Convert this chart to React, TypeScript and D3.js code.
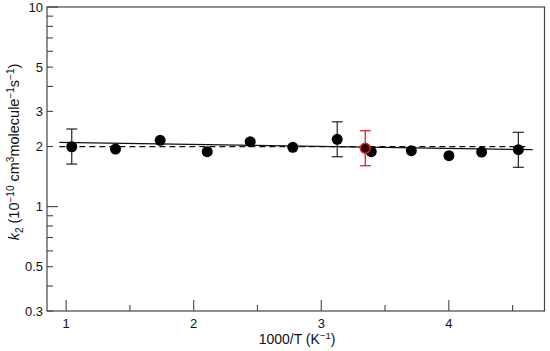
import React from 'react';
import * as d3 from 'd3';

// measured points: 1000/T and k2 (1e-10 cm3 molecule-1 s-1)
const invT = [1.044, 1.387, 1.737, 2.106, 2.443, 2.777, 3.125, 3.392, 3.706, 4.001, 4.257, 4.545];
const k2 = [1.995, 1.943, 2.149, 1.884, 2.115, 1.982, 2.174, 1.884, 1.906, 1.80, 1.877, 1.928];
// error bars on selected points [x, low, high]
const errBars = [
  [1.044, 1.634, 2.448],
  [3.125, 1.778, 2.66],
  [4.545, 1.574, 2.357],
];
// highlighted (red) literature point
const redPoint = { x: 3.345, y: 1.96, lo: 1.603, hi: 2.40 };
// fit lines
const fitSolid = [[0.947, 2.10], [4.657, 1.928]];
const fitDashed = [[0.947, 2.0], [4.60, 2.0]];

const xMajor = [1, 2, 3, 4];
const xMinor = [1.5, 2.5, 3.5, 4.5];
const yLabels = [0.3, 0.5, 1, 2, 3, 5, 10];
const yMinor = [0.4, 0.6, 0.7, 0.8, 0.9, 4, 6, 7, 8, 9];

export default function App() {
  const left = 47, top = 7, right = 544.5, bottom = 311;
  const x = d3.scaleLinear().domain([0.85, 4.75]).range([left, right]);
  const y = d3.scaleLog().domain([0.3, 10]).range([bottom, top]);
  const line = d3.line<number[]>().x(d => x(d[0])).y(d => y(d[1]));
  const font = '"Liberation Sans", Arial, sans-serif';
  const axisCol = '#444';
  const cap = 5.5;
  const red = '#e8202a';

  return (
    <svg width={550} height={351} style={{ position: 'absolute', left: 0, top: 0 }} fontFamily={font}>
      <rect x={left} y={top} width={right - left} height={bottom - top} fill="none" stroke={axisCol} strokeWidth={1.2} />

      {/* x ticks */}
      {xMajor.map(v => (
        <g key={'xm' + v}>
          <line x1={x(v)} x2={x(v)} y1={bottom} y2={bottom - 11} stroke={axisCol} strokeWidth={1.1} />
          <text x={x(v)} y={328} textAnchor="middle" fontSize={13} fill="#111">{v}</text>
        </g>
      ))}
      {xMinor.map(v => (
        <line key={'xn' + v} x1={x(v)} x2={x(v)} y1={bottom} y2={bottom - 6} stroke={axisCol} strokeWidth={1.1} />
      ))}

      {/* y ticks */}
      {yLabels.map(v => (
        <g key={'yl' + v}>
          <line x1={left} x2={left + (v === 1 || v === 10 ? 11 : 6)} y1={y(v)} y2={y(v)} stroke={axisCol} strokeWidth={1.1} />
          <text x={43} y={y(v)} dy="0.35em" textAnchor="end" fontSize={13} fill="#111">{v}</text>
        </g>
      ))}
      {yMinor.map(v => (
        <line key={'yn' + v} x1={left} x2={left + 6} y1={y(v)} y2={y(v)} stroke={axisCol} strokeWidth={1.1} />
      ))}

      {/* fits */}
      <path d={line(fitSolid) || ''} fill="none" stroke="#111" strokeWidth={1.3} />
      <path d={line(fitDashed) || ''} fill="none" stroke="#111" strokeWidth={1.3} strokeDasharray="6,4" />

      {/* error bars */}
      {errBars.map((e, i) => (
        <g key={'e' + i} stroke="#222" strokeWidth={1.2}>
          <line x1={x(e[0])} x2={x(e[0])} y1={y(e[1])} y2={y(e[2])} />
          <line x1={x(e[0]) - cap} x2={x(e[0]) + cap} y1={y(e[1])} y2={y(e[1])} />
          <line x1={x(e[0]) - cap} x2={x(e[0]) + cap} y1={y(e[2])} y2={y(e[2])} />
        </g>
      ))}

      {/* points */}
      {invT.map((v, i) => (
        <circle key={'p' + i} cx={x(v)} cy={y(k2[i])} r={5.5} fill="#000" />
      ))}

      {/* red point */}
      <g stroke={red} strokeWidth={1.3}>
        <line x1={x(redPoint.x)} x2={x(redPoint.x)} y1={y(redPoint.lo)} y2={y(redPoint.hi)} />
        <line x1={x(redPoint.x) - cap} x2={x(redPoint.x) + cap} y1={y(redPoint.lo)} y2={y(redPoint.lo)} />
        <line x1={x(redPoint.x) - cap} x2={x(redPoint.x) + cap} y1={y(redPoint.hi)} y2={y(redPoint.hi)} />
        <circle cx={x(redPoint.x)} cy={y(redPoint.y)} r={5} fill="#2a0606" strokeWidth={1.5} />
      </g>

      {/* axis titles */}
      <text x={297} y={344} textAnchor="middle" fontSize={14} fill="#111">
        1000/T (K<tspan dy={-5} fontSize={9.5}>−1</tspan><tspan dy={5}>)</tspan>
      </text>
      <text transform="translate(19,152) rotate(-90)" textAnchor="middle" fontSize={14.5} fill="#111">
        <tspan fontStyle="italic">k</tspan><tspan dy={4} fontSize={10}>2</tspan>
        <tspan dy={-4}> (10</tspan><tspan dy={-5} fontSize={10}>−10</tspan>
        <tspan dy={5}> cm</tspan><tspan dy={-5} fontSize={10}>3</tspan>
        <tspan dy={5}>molecule</tspan><tspan dy={-5} fontSize={10}>−1</tspan>
        <tspan dy={5}>s</tspan><tspan dy={-5} fontSize={10}>−1</tspan>
        <tspan dy={5}>)</tspan>
      </text>
    </svg>
  );
}
